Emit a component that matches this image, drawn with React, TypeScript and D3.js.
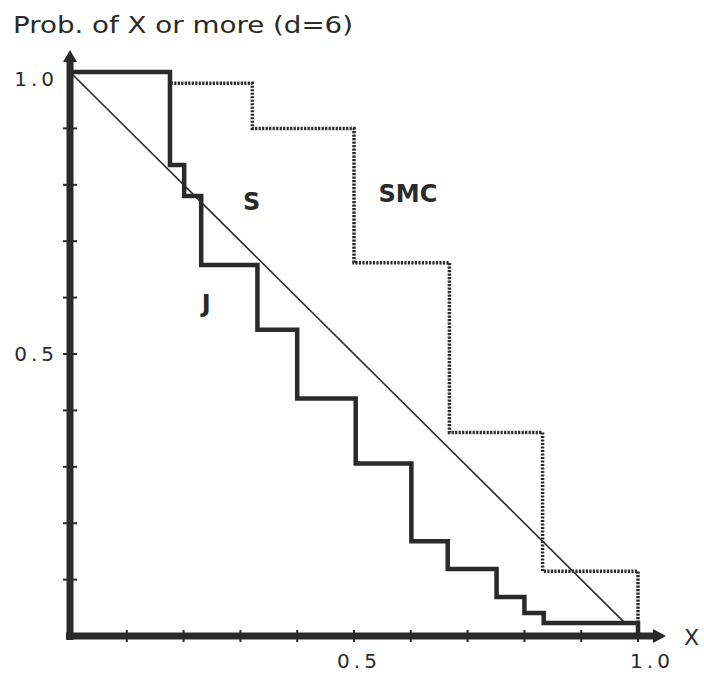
import React, { useEffect, useRef } from 'react';
import * as d3 from 'd3';

// J curve: level jY[i] holds from jX[i] to the next step
const jX = [0, 0.176, 0.201, 0.231, 0.33, 0.4, 0.503, 0.601, 0.665, 0.751, 0.8, 0.834];
const jY = [1.0, 0.835, 0.78, 0.658, 0.543, 0.421, 0.306, 0.168, 0.119, 0.069, 0.041, 0.023];

// SMC curve (dotted)
const smcX = [0, 0.176, 0.321, 0.5, 0.668, 0.832];
const smcY = [1.0, 0.98, 0.9, 0.662, 0.361, 0.115];

// S: straight diagonal
const sX = [0, 0.975];
const sY = [1.0, 0.025];

const xTicks = [0.1, 0.2, 0.3, 0.4, 0.5, 0.6, 0.7, 0.8, 0.9, 1.0];
const yTicks = [0.1, 0.2, 0.3, 0.4, 0.5, 0.6, 0.7, 0.8, 0.9];
const xLabels = [0.5, 1.0];
const yLabels = [0.5, 1.0];

const W = 704;
const H = 682;
const ink = '#2a2a2a';

const App = () => {
  const ref = useRef(null);

  useEffect(() => {
    const svg = d3.select(ref.current);
    svg.selectAll('*').remove();

    const x = d3.scaleLinear().domain([0, 1]).range([70, 638]);
    const y = d3.scaleLinear().domain([0, 1]).range([636, 72]);

    const step = d3
      .line()
      .x((d) => x(d[0]))
      .y((d) => y(d[1]))
      .curve(d3.curveStepAfter);

    // title
    svg
      .append('text')
      .attr('x', 13)
      .attr('y', 33)
      .attr('textLength', 340)
      .attr('lengthAdjust', 'spacingAndGlyphs')
      .style('font-family', 'DejaVu Sans')
      .style('font-size', '23px')
      .style('fill', ink)
      .text('Prob. of X or more (d=6)');

    // diagonal S
    svg
      .append('line')
      .attr('x1', x(sX[0]))
      .attr('y1', y(sY[0]))
      .attr('x2', x(sX[1]))
      .attr('y2', y(sY[1]))
      .attr('stroke', ink)
      .attr('stroke-width', 1.6);

    // SMC dotted
    const smcPts = smcX.map((v, i) => [v, smcY[i]]);
    smcPts.push([1.0, smcY[smcY.length - 1]]);
    smcPts.push([1.0, 0.02]);
    svg
      .append('path')
      .attr('d', step(smcPts))
      .attr('fill', 'none')
      .attr('stroke', ink)
      .attr('stroke-width', 3.5)
      .attr('stroke-dasharray', '2.2,1.3');

    // J thick
    const jPts = jX.map((v, i) => [v, jY[i]]);
    jPts.push([1.0, jY[jY.length - 1]]);
    jPts.push([1.0, 0]);
    svg
      .append('path')
      .attr('d', step(jPts))
      .attr('fill', 'none')
      .attr('stroke', ink)
      .attr('stroke-width', 4.5)
      .attr('stroke-linejoin', 'miter');

    // axes
    svg
      .append('line')
      .attr('x1', x(0))
      .attr('y1', y(0) + 4)
      .attr('x2', x(0))
      .attr('y2', 58)
      .attr('stroke', ink)
      .attr('stroke-width', 7);
    svg
      .append('path')
      .attr('d', `M${x(0) - 7},${62} L${x(0)},${50} L${x(0) + 7},${62} Z`)
      .attr('fill', ink);
    svg
      .append('line')
      .attr('x1', x(0) - 4)
      .attr('y1', y(0))
      .attr('x2', 655)
      .attr('y2', y(0))
      .attr('stroke', ink)
      .attr('stroke-width', 7);
    svg
      .append('path')
      .attr('d', `M${653},${y(0) - 7} L${666},${y(0)} L${653},${y(0) + 7} Z`)
      .attr('fill', ink);

    // ticks
    svg
      .selectAll('line.xt')
      .data(xTicks)
      .enter()
      .append('line')
      .attr('class', 'xt')
      .attr('x1', (d) => x(d))
      .attr('x2', (d) => x(d))
      .attr('y1', y(0) - 6)
      .attr('y2', y(0) + 6)
      .attr('stroke', ink)
      .attr('stroke-width', 2);
    svg
      .selectAll('line.yt')
      .data(yTicks)
      .enter()
      .append('line')
      .attr('class', 'yt')
      .attr('x1', x(0) - 7)
      .attr('x2', x(0) + 7)
      .attr('y1', (d) => y(d))
      .attr('y2', (d) => y(d))
      .attr('stroke', ink)
      .attr('stroke-width', 2);

    // tick labels
    const lab = (sel) =>
      sel
        .style('font-family', 'DejaVu Sans')
        .style('font-size', '20px')
        .style('letter-spacing', '4px')
        .style('fill', ink);

    svg
      .selectAll('text.yl')
      .data(yLabels)
      .enter()
      .append('text')
      .attr('class', 'yl')
      .attr('x', 58)
      .attr('y', (d) => y(d) + (d === 1 ? 14 : 7))
      .attr('text-anchor', 'end')
      .call(lab)
      .text((d) => d.toFixed(1));

    svg
      .selectAll('text.xl')
      .data(xLabels)
      .enter()
      .append('text')
      .attr('class', 'xl')
      .attr('x', (d) => x(d) + (d === 1 ? 14 : 5))
      .attr('y', 668)
      .attr('text-anchor', 'middle')
      .call(lab)
      .text((d) => d.toFixed(1));

    svg
      .append('text')
      .attr('x', 684)
      .attr('y', y(0) + 9)
      .style('font-family', 'DejaVu Sans')
      .style('font-size', '22px')
      .style('fill', ink)
      .text('X');

    // curve labels
    const big = (sel) =>
      sel
        .style('font-family', 'DejaVu Sans')
        .style('font-weight', 'bold')
        .style('font-size', '24px')
        .style('fill', ink)
        .attr('text-anchor', 'middle');

    svg.append('text').attr('x', x(0.32)).attr('y', y(0.755)).call(big).text('S');
    svg.append('text').attr('x', x(0.24)).attr('y', y(0.575)).call(big).text('J');
    svg.append('text').attr('x', x(0.595)).attr('y', y(0.77)).call(big).text('SMC');
  }, []);

  return (
    <svg
      ref={ref}
      width={W}
      height={H}
      style={{ position: 'absolute', left: 0, top: 0, background: '#fff' }}
    />
  );
};

export default App;
